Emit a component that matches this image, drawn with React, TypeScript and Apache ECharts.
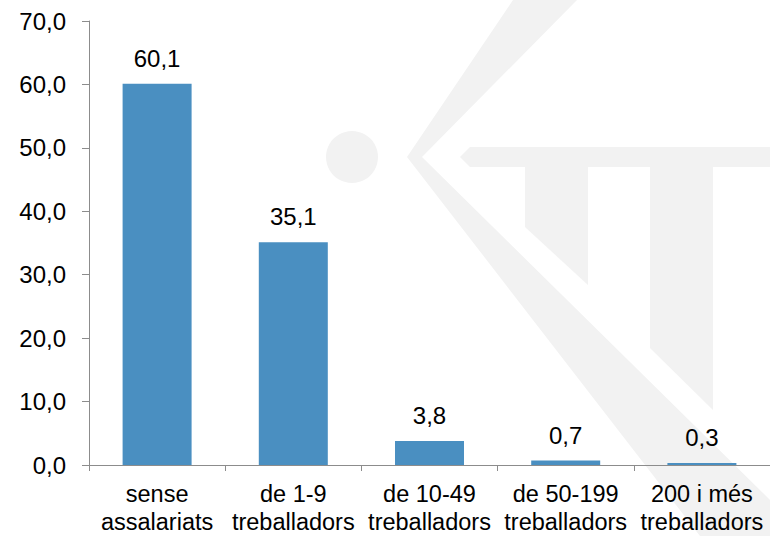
import React, { useEffect, useRef } from "react";
import * as echarts from "echarts";

const categories = [
  "sense\nassalariats",
  "de 1-9\ntreballadors",
  "de 10-49\ntreballadors",
  "de 50-199\ntreballadors",
  "200 i més\ntreballadors",
];
const values = [60.1, 35.1, 3.8, 0.7, 0.3];
const yMin = 0;
const yMax = 70;
const yInterval = 10;

const fmt = (v: number) => v.toFixed(1).replace(".", ",");
const FONT = "'Liberation Sans', Arial, sans-serif";

export default function App() {
  const ref = useRef<HTMLDivElement>(null);
  useEffect(() => {
    if (!ref.current) return;
    const chart = echarts.init(ref.current, undefined, { renderer: "svg" });
    const wm = "#f2f2f2";
    chart.setOption({
      animation: false,
      backgroundColor: "#ffffff",
      textStyle: { fontFamily: FONT },
      graphic: [
        { type: "circle", z: -10, silent: true, shape: { cx: 352, cy: 157, r: 26 }, style: { fill: wm } },
        {
          type: "polygon", z: -10, silent: true,
          shape: { points: [[513, 0], [577, 0], [422, 157], [770, 500], [770, 536], [700, 536], [407, 157]] },
          style: { fill: wm },
        },
        {
          type: "polygon", z: -10, silent: true,
          shape: { points: [[460, 157], [470, 147], [780, 147], [780, 167], [470, 167]] },
          style: { fill: wm },
        },
        {
          type: "polygon", z: -10, silent: true,
          shape: { points: [[525, 167], [588, 167], [588, 285], [525, 227]] },
          style: { fill: wm },
        },
        {
          type: "polygon", z: -10, silent: true,
          shape: { points: [[650, 167], [713, 167], [713, 410], [650, 348]] },
          style: { fill: wm },
        },
      ],
      grid: { left: 89, top: 21, width: 686, height: 446.5, containLabel: false },
      xAxis: {
        type: "category",
        data: categories,
        axisLine: { show: true, lineStyle: { color: "#8c8c8c", width: 1 } },
        axisTick: { show: true, length: 6, alignWithLabel: false, lineStyle: { color: "#8c8c8c" } },
        axisLabel: {
          color: "#000000",
          fontSize: 23.5,
          lineHeight: 28,
          margin: 15,
          interval: 0,
          fontFamily: FONT,
        },
      },
      yAxis: {
        type: "value",
        min: yMin,
        max: yMax,
        interval: yInterval,
        splitLine: { show: false },
        axisLine: { show: true, lineStyle: { color: "#8c8c8c", width: 1 } },
        axisTick: { show: true, length: 7, lineStyle: { color: "#8c8c8c" } },
        axisLabel: {
          color: "#000000",
          fontSize: 24,
          margin: 23,
          formatter: (v: number) => fmt(v),
          fontFamily: FONT,
        },
      },
      series: [
        {
          type: "bar",
          data: values,
          barWidth: 69,
          itemStyle: { color: "#4a8fc1" },
          label: {
            show: true,
            position: "top",
            distance: 13.5,
            color: "#000000",
            fontSize: 24,
            fontFamily: FONT,
            formatter: (p: any) => fmt(p.value),
          },
        },
      ],
    });
    return () => chart.dispose();
  }, []);
  return (
    <div
      ref={ref}
      style={{ position: "fixed", left: 0, top: 0, width: 770, height: 536 }}
    />
  );
}
